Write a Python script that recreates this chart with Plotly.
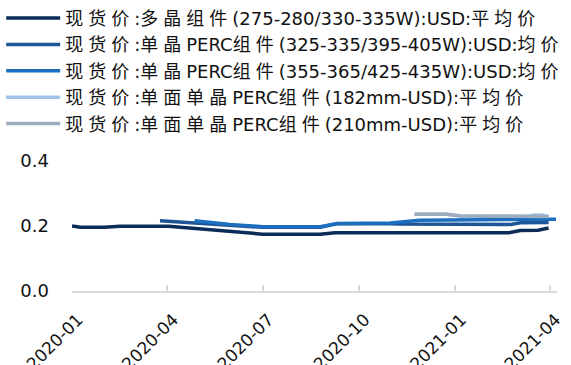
import re
import plotly.graph_objects as go

# Spot module prices, USD per watt
poly_dates = ["2020-01-01", "2020-01-09", "2020-02-01", "2020-02-16", "2020-04-02",
              "2020-04-27", "2020-05-31", "2020-07-01", "2020-08-25", "2020-09-08",
              "2021-02-21", "2021-03-04", "2021-03-21", "2021-03-31"]
poly_vals = [0.200, 0.196, 0.196, 0.199, 0.199,
             0.192, 0.183, 0.175, 0.175, 0.179,
             0.179, 0.186, 0.187, 0.194]

perc_a_dates = ["2020-03-25", "2020-04-27", "2020-05-31", "2020-07-01", "2020-08-25",
                "2020-09-10", "2020-10-31", "2020-11-09", "2021-02-23", "2021-03-04",
                "2021-03-31"]
perc_a_vals = [0.216, 0.210, 0.202, 0.196, 0.196,
               0.207, 0.207, 0.206, 0.205, 0.210,
               0.211]

perc_b_dates = ["2020-04-27", "2020-05-31", "2020-07-01", "2020-08-25", "2020-09-10",
                "2020-10-31", "2020-11-28", "2021-04-07"]
perc_b_vals = [0.216, 0.205, 0.198, 0.198, 0.208,
               0.209, 0.218, 0.221]

m182_dates = ["2020-11-23", "2020-12-24", "2021-01-06", "2021-03-12", "2021-03-18",
              "2021-03-25", "2021-03-31"]
m182_vals = [0.236, 0.236, 0.231, 0.230, 0.234, 0.234, 0.229]

m210_dates = ["2020-11-23", "2020-12-24", "2021-01-06", "2021-03-31"]
m210_vals = [0.236, 0.236, 0.231, 0.229]

names = [
    "现货价:多晶组件(275-280/330-335W):USD:平均价",
    "现货价:单晶PERC组件(325-335/395-405W):USD:均价",
    "现货价:单晶PERC组件(355-365/425-435W):USD:均价",
    "现货价:单面单晶PERC组件(182mm-USD):平均价",
    "现货价:单面单晶PERC组件(210mm-USD):平均价",
]
colors = ["#0B2B58", "#1D5596", "#1C6EBF", "#9FC3E6", "#9CABBD"]

series = [
    (poly_dates, poly_vals),
    (perc_a_dates, perc_a_vals),
    (perc_b_dates, perc_b_vals),
    (m182_dates, m182_vals),
    (m210_dates, m210_vals),
]

FONT = "DejaVu Sans, Noto Sans CJK SC, sans-serif"


def spaced_cjk(text, gap=5):
    """Give runs of CJK characters a little extra tracking."""
    return re.sub(r"([\u4e00-\u9fff]+)",
                  lambda m: f'<span style="letter-spacing:{gap}px">{m.group(1)}</span>',
                  text)


fig = go.Figure()
for (x, y), name, color in zip(series, names, colors):
    fig.add_trace(go.Scatter(
        x=x, y=y, name=spaced_cjk(name), mode="lines",
        line=dict(color=color, width=3.5),
    ))

fig.update_layout(
    width=571, height=365,
    margin=dict(l=72, r=14, t=161, b=74, autoexpand=False),
    paper_bgcolor="white", plot_bgcolor="white",
    font=dict(family=FONT, size=18, color="#111111"),
    showlegend=True,
    legend=dict(
        x=-0.146, y=2.24, xanchor="left", yanchor="top",
        font=dict(family=FONT, size=18, color="#111111"),
        itemwidth=54, traceorder="normal",
        bgcolor="rgba(0,0,0,0)",
    ),
    xaxis=dict(
        type="date",
        range=["2020-01-01", "2021-04-08"],
        dtick="M3", tick0="2020-01-01", tickformat="%Y-%m",
        tickangle=-45,
        showline=True, linecolor="#D9D9D9", linewidth=2,
        ticks="inside", ticklen=6, tickcolor="#D9D9D9", tickwidth=2,
        showgrid=False, zeroline=False,
        ticklabelstandoff=10, ticklabelshift=6,
        tickfont=dict(family=FONT, size=17, color="#111111"),
    ),
    yaxis=dict(
        range=[0, 0.4], dtick=0.2, tickformat=".1f",
        showline=False, showgrid=False, zeroline=False, ticks="",
        ticklabelstandoff=22,
        tickfont=dict(family=FONT, size=18, color="#111111"),
    ),
)

fig.write_html("out.html")
